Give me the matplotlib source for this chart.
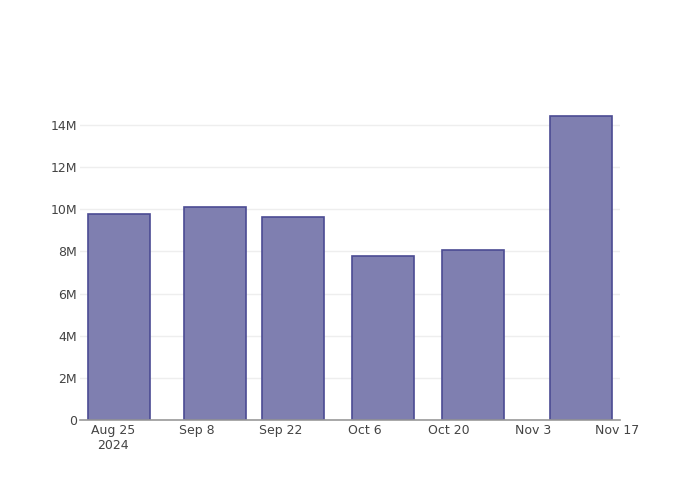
import numpy as np
import matplotlib
matplotlib.use("Agg")
import matplotlib.pyplot as plt
import matplotlib.dates as mdates
from matplotlib.ticker import FuncFormatter

# Bar data (dates and values)
dates = np.array(["2024-08-26", "2024-09-11", "2024-09-24",
                  "2024-10-09", "2024-10-24", "2024-11-11"], dtype="datetime64[D]")
values = [9.78e6, 10.11e6, 9.63e6, 7.78e6, 8.07e6, 14.43e6]

tick_dates = np.array(["2024-08-25", "2024-09-08", "2024-09-22", "2024-10-06",
                       "2024-10-20", "2024-11-03", "2024-11-17"], dtype="datetime64[D]")
tick_labels = ["Aug 25\n2024", "Sep 8", "Sep 22", "Oct 6", "Oct 20", "Nov 3", "Nov 17"]
y_ticks = [0, 2e6, 4e6, 6e6, 8e6, 10e6, 12e6, 14e6]

fig = plt.figure(figsize=(7, 5), dpi=100)
ax = fig.add_axes([80 / 700, 80 / 500, 540 / 700, 320 / 500])

x = mdates.date2num(dates.astype("datetime64[s]").astype(object))
ax.bar(x, values, width=10.4, color="#7f7fb0", edgecolor="#4b4b93",
       linewidth=1.2, zorder=3)

ax.set_xlim(mdates.date2num(np.datetime64("2024-08-19T12:00").astype(object)),
            mdates.date2num(np.datetime64("2024-11-17T12:00").astype(object)))
ax.set_ylim(0, 15.19e6)

ax.set_xticks(mdates.date2num(tick_dates.astype("datetime64[s]").astype(object)))
ax.set_xticklabels(tick_labels)
ax.set_yticks(y_ticks)
ax.yaxis.set_major_formatter(FuncFormatter(
    lambda v, p: "0" if v == 0 else f"{v / 1e6:.0f}M"))

ax.tick_params(axis="both", length=0, labelsize=9, colors="#444444")
ax.tick_params(axis="y", pad=2)
ax.tick_params(axis="x", pad=3)
ax.grid(axis="y", color="#eeeeee", linewidth=1, zorder=0)

for s in ["top", "right", "left"]:
    ax.spines[s].set_visible(False)
ax.spines["bottom"].set_color("#999999")
ax.spines["bottom"].set_linewidth(1.2)
ax.spines["bottom"].set_zorder(4)

fig.savefig("out.png", dpi=100)
